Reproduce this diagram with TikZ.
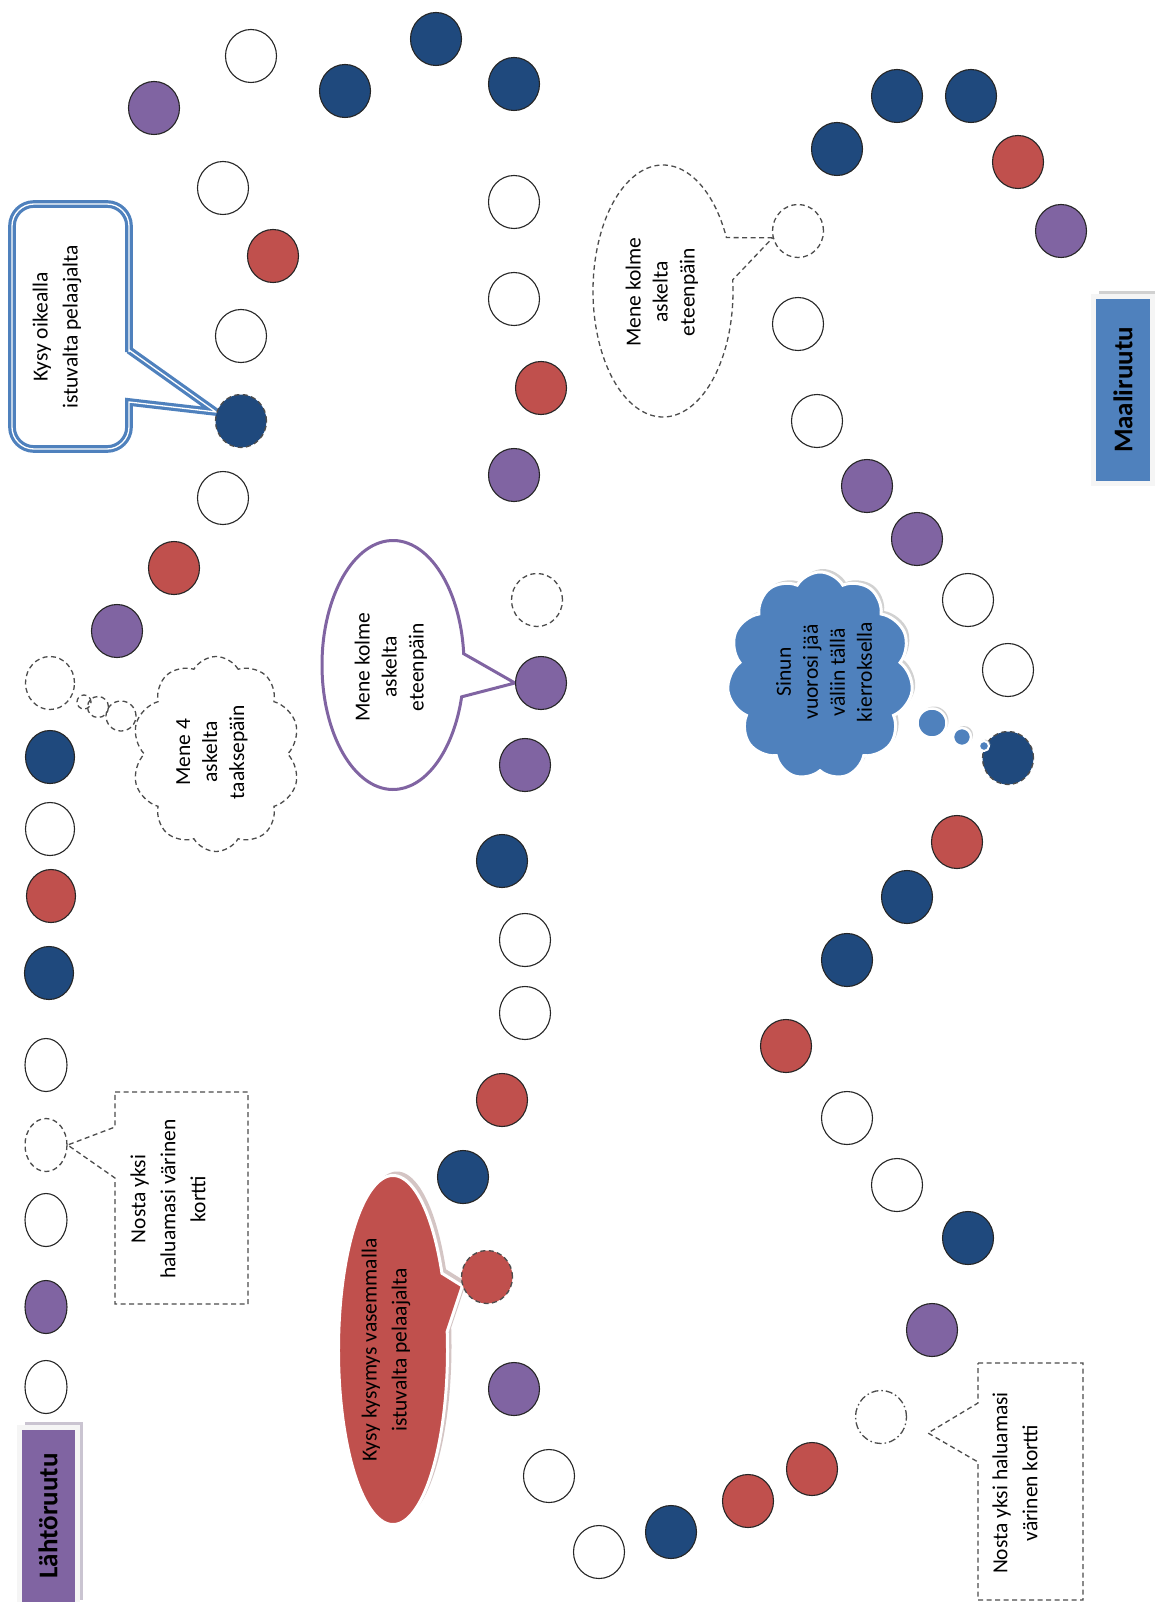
\documentclass[tikz,border=0pt]{standalone}
\usepackage{fontspec}
\setmainfont{Carlito}
\usetikzlibrary{shapes, shadows, backgrounds}

\definecolor{tsin}{HTML}{1F497D}
\definecolor{tpun}{HTML}{C0504D}
\definecolor{tvio}{HTML}{8064A2}
\definecolor{tsini}{HTML}{4F81BD}

\tikzset{
  ruutu/.style={ellipse, draw=black!85, line width=1.1pt, minimum width=51pt,
                minimum height=53pt, inner sep=0pt},
  kapea/.style={minimum width=42pt},
  keski/.style={minimum width=49pt},
  valkoinen/.style={ruutu, fill=white},
  sininen/.style={ruutu, fill=tsin},
  punainen/.style={ruutu, fill=tpun},
  violetti/.style={ruutu, fill=tvio},
  katkoviiva/.style={draw=black!70, line width=1.3pt, dash pattern=on 5pt off 3.5pt},
  pistekatko/.style={draw=black!70, line width=1.3pt,
                     dash pattern=on 7pt off 3pt on 1.5pt off 3pt},
  teksti/.style={rotate=90, align=center, inner sep=0pt,
                 font=\fontsize{21.5}{27}\selectfont},
  teksti2/.style={teksti, font=\fontsize{21.5}{30}\selectfont},
  otsikko/.style={rectangle, inner sep=0pt, draw=black!4, line width=5pt,
                  font=\fontsize{27}{30}\selectfont\bfseries},
  puhe/.style={ellipse callout, callout pointer arc=20, inner sep=0pt},
  pilvi/.style={cloud, cloud puff arc=120, cloud ignores aspect, inner sep=0pt},
  kupla/.style={circle, inner sep=0pt}
}

\begin{document}
\begin{tikzpicture}[x=1pt, y=-1pt]
	\useasboundingbox (0,0) rectangle (1154,1602);

	\node[valkoinen, kapea] (c1) at (46,1387) {};
	\node[violetti, kapea] (c2) at (46,1307) {};
	\node[valkoinen, kapea] (c3) at (46,1220) {};
	\node[valkoinen, kapea, katkoviiva] (c4) at (46,1145) {};
	\node[valkoinen, kapea] (c5) at (46,1065) {};
	\node[sininen, keski] (c6) at (49,973) {};
	\node[punainen, keski] (c7) at (51,896) {};
	\node[valkoinen, keski] (c8) at (50,829) {};
	\node[sininen, keski] (c9) at (50,757) {};
	\node[valkoinen, keski, katkoviiva] (c10) at (50,683) {};
	\node[violetti] (c11) at (117,631) {};
	\node[punainen] (c12) at (174,568) {};
	\node[valkoinen] (c13) at (223,498) {};
	\node[sininen, katkoviiva] (c14) at (241,421) {};
	\node[valkoinen] (c15) at (241,336) {};
	\node[punainen] (c16) at (273,256) {};
	\node[valkoinen] (c17) at (223,188) {};
	\node[violetti] (c18) at (154,108) {};
	\node[valkoinen] (c19) at (251,56) {};
	\node[sininen] (c20) at (345,91) {};
	\node[sininen] (c21) at (436,39) {};
	\node[sininen] (c22) at (514,84) {};
	\node[valkoinen] (c23) at (514,202) {};
	\node[valkoinen] (c24) at (514,299) {};
	\node[punainen] (c25) at (541,388) {};
	\node[violetti] (c26) at (514,475) {};
	\node[valkoinen, katkoviiva] (c27) at (537,600) {};
	\node[violetti] (c28) at (541,683) {};
	\node[violetti] (c29) at (525,765) {};
	\node[sininen] (c30) at (502,861) {};
	\node[valkoinen] (c31) at (525,940) {};
	\node[valkoinen] (c32) at (525,1013) {};
	\node[punainen] (c33) at (502,1100) {};
	\node[sininen] (c34) at (463,1177) {};
	\node[punainen, katkoviiva] (c35) at (487,1277) {};
	\node[violetti] (c36) at (514,1389) {};
	\node[valkoinen] (c37) at (549,1476) {};
	\node[valkoinen] (c38) at (599,1552) {};
	\node[sininen] (c39) at (671,1532) {};
	\node[punainen] (c40) at (748,1501) {};
	\node[punainen] (c41) at (812,1469) {};
	\node[valkoinen, pistekatko] (c42) at (881,1417) {};
	\node[violetti] (c43) at (932,1330) {};
	\node[sininen] (c44) at (968,1238) {};
	\node[valkoinen] (c45) at (897,1185) {};
	\node[valkoinen] (c46) at (847,1118) {};
	\node[punainen] (c47) at (786,1046) {};
	\node[sininen] (c48) at (847,960) {};
	\node[sininen] (c49) at (907,897) {};
	\node[punainen] (c50) at (957,842) {};
	\node[sininen, katkoviiva] (c51) at (1008,758) {};
	\node[valkoinen] (c52) at (1008,670) {};
	\node[valkoinen] (c53) at (968,600) {};
	\node[violetti] (c54) at (917,539) {};
	\node[violetti] (c55) at (867,486) {};
	\node[valkoinen] (c56) at (817,421) {};
	\node[valkoinen] (c57) at (798,324) {};
	\node[valkoinen, katkoviiva] (c58) at (798,231) {};
	\node[sininen] (c59) at (837,149) {};
	\node[sininen] (c60) at (897,96) {};
	\node[sininen] (c61) at (971,96) {};
	\node[punainen] (c62) at (1018,162) {};
	\node[violetti] (c63) at (1061,231) {};

	\node[otsikko, fill=tvio, minimum width=58pt, minimum height=178pt,
	      drop shadow={shadow xshift=5.5pt, shadow yshift=5.5pt, fill=tvio!50!gray!70, opacity=.6}]
	      (lahto) at (48,1516) {\rotatebox{90}{Lähtöruutu}};
	\node[otsikko, fill=tsini, minimum width=59pt, minimum height=186pt,
	      drop shadow={shadow xshift=5.5pt, shadow yshift=5.5pt, fill=gray!60, opacity=.6}]
	      (maali) at (1123,390) {\rotatebox{90}{Maaliruutu}};

	\begin{scope}[on background layer]
		\draw[draw=tsini, double=white, double distance=1.3pt, line width=3.2pt, fill=white]
		(12,320) [rounded corners=22pt] -- (12,204) -- (129,204) -- (129,330)
		[sharp corners] -- (129,350) -- (216,412) -- (129,402) -- (129,420)
		[rounded corners=22pt] -- (129,449) -- (12,449) -- cycle;
		\draw[katkoviiva, fill=white] (115,1092) -- (248,1092) -- (248,1304) -- (115,1304)
		-- (115,1178) -- (c4.east) -- (115,1127) -- cycle;
		\draw[katkoviiva, fill=white] (978,1363) -- (1083,1363) -- (1083,1600) -- (978,1600)
		-- (978,1462) -- (928,1433) -- (978,1403) -- cycle;
		\node[puhe, draw=tvio, line width=3pt, fill=white, minimum width=142pt,
		      minimum height=249pt, callout absolute pointer={(c28.west)}] (menevio) at (393,665) {};
		\node[puhe, katkoviiva, fill=white, minimum width=140pt, minimum height=252pt,
		      callout absolute pointer={(c58.195)}] (menekatko) at (663,291) {};
		\node[puhe, fill=tpun, draw=white, line width=3pt, minimum width=109pt,
		      minimum height=349pt, callout absolute pointer={(c35.200)},
		      drop shadow={shadow xshift=4pt, shadow yshift=4pt, fill=tpun!50!black!60, opacity=.45}]
		      (kysyvas) at (393,1350) {};
		\node[pilvi, cloud puffs=10, katkoviiva, fill=white, minimum width=168pt,
		      minimum height=195pt] (pilvitaakse) at (216,754) {};
		\node[kupla, katkoviiva, minimum size=30pt] (kupla1) at (121,716) {};
		\node[kupla, katkoviiva, minimum size=21pt] (kupla2) at (98,707) {};
		\node[kupla, katkoviiva, minimum size=14pt] (kupla3) at (84,702) {};
		\node[pilvi, cloud puffs=11, fill=tsini, draw=white, line width=3pt, minimum width=186pt,
		      minimum height=208pt, drop shadow={shadow xshift=3pt, shadow yshift=3pt, fill=gray!60, opacity=.6}]
		      (pilvivali) at (820,676) {};
		\node[kupla, fill=tsini, draw=white, line width=2.5pt, minimum size=29pt,
		      drop shadow={shadow xshift=2pt, shadow yshift=2pt, fill=gray!60, opacity=.6}] (kupla4) at (932,723) {};
		\node[kupla, fill=tsini, draw=white, line width=2.5pt, minimum size=18pt,
		      drop shadow={shadow xshift=2pt, shadow yshift=2pt, fill=gray!60, opacity=.6}] (kupla5) at (962,737) {};
	\end{scope}
	\node[kupla, fill=tsini, draw=white, line width=2pt, minimum size=10pt,
	      drop shadow={shadow xshift=1.5pt, shadow yshift=1.5pt, fill=gray!60, opacity=.6}] (kupla6) at (984,746) {};

	\node[teksti2] (t1) at (57,327) {Kysy oikealla\\istuvalta pelaajalta};
	\node[teksti] (t2) at (212,752) {Mene 4\\askelta\\taaksepäin};
	\node[teksti2] (t3) at (168,1199) {Nosta yksi\\haluamasi värinen\\kortti};
	\node[teksti] (t4) at (391,667) {Mene kolme\\askelta\\eteenpäin};
	\node[teksti2] (t5) at (386,1350) {Kysy kysymys vasemmalla\\istuvalta pelaajalta};
	\node[teksti] (t6) at (662,292) {Mene kolme\\askelta\\eteenpäin};
	\node[teksti] (t7) at (824,672) {Sinun\\vuorosi jää\\väliin tällä\\kierroksella};
	\node[teksti2] (t8) at (1015,1483) {Nosta yksi haluamasi\\värinen kortti};
\end{tikzpicture}
\end{document}
